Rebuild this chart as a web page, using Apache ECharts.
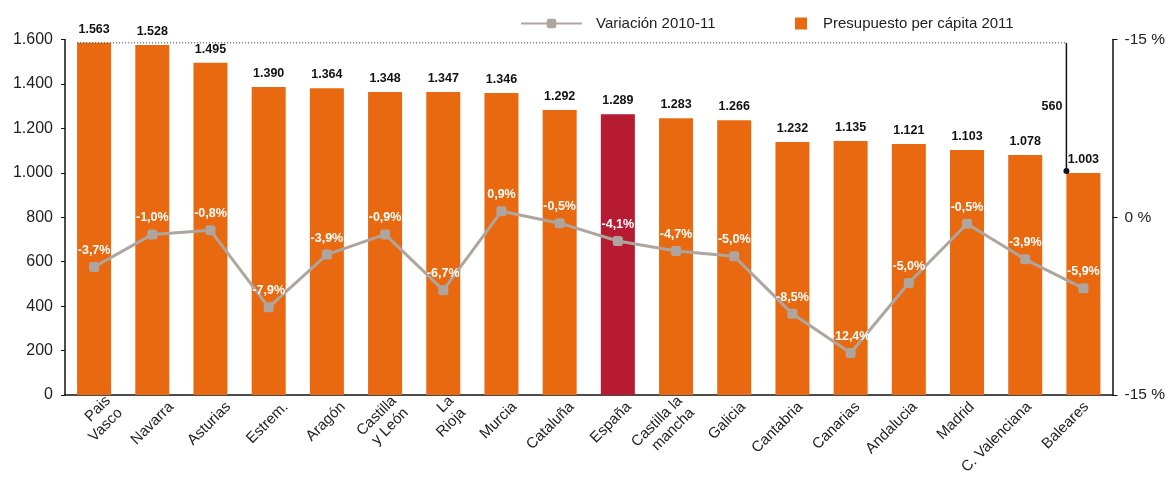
<!DOCTYPE html>
<html>
<head>
<meta charset="utf-8">
<script src="https://cdn.jsdelivr.net/npm/echarts@6/dist/echarts.min.js"></script>
<style>
html,body{margin:0;padding:0;background:#fff;}
#main{width:1168px;height:478px;}
</style>
</head>
<body>
<div id="main"></div>
<script>
const categories = ['Pais\nVasco','Navarra','Asturias','Estrem.','Aragón','Castilla\ny León','La\nRioja','Murcia','Cataluña','España','Castilla la\nmancha','Galicia','Cantabria','Canarias','Andalucia','Madrid','C. Valenciana','Baleares'];
const barHeights = [1585,1575,1495,1386,1381,1364,1364,1359,1283,1264,1246,1237,1139,1143,1130,1103,1080,999];
const barLabels = ['1.563','1.528','1.495','1.390','1.364','1.348','1.347','1.346','1.292','1.289','1.283','1.266','1.232','1.135','1.121','1.103','1.078','1.003'];
const variation = [-4.2,-1.45,-1.1,-7.6,-3.15,-1.45,-6.15,0.5,-0.5,-2.0,-2.85,-3.3,-8.15,-11.45,-5.55,-0.55,-3.55,-6.0];
const variationLabels = ['-3,7%','-1,0%','-0,8%','-7,9%','-3,9%','-0,9%','-6,7%','0,9%','-0,5%','-4,1%','-4,7%','-5,0%','-8,5%','-12,4%','-5,0%','-0,5%','-3,9%','-5,9%'];
const rightTickLabels = {'15':'-15 %','0':'0 %','-15':'-15 %'};
const highlightIndex = 9;
const annotationLabel = '560';

const ORANGE = '#E8690F';
const RED = '#B71B32';
const GREY = '#AEA69E';
const FONT = '"Liberation Sans", Arial, Helvetica, sans-serif';

const chart = echarts.init(document.getElementById('main'), null, {renderer:'canvas'});
const option = {
  animation:false,
  textStyle:{fontFamily:FONT},
  grid:[
    {left:65, right:55, top:39.5, bottom:83, containLabel:false},
    // label band for the category names (the names sit on a slightly tighter spacing than the bars)
    {left:85.5, right:53, top:39.5, bottom:83, containLabel:false}
  ],
  legend:[{
    data:['Variación 2010-11'], left:515, top:11, itemWidth:61, itemHeight:12,
    textStyle:{fontSize:15, color:'#222', fontFamily:FONT, padding:[0,0,0,9]}
  },{
    data:[{name:'Presupuesto per cápita 2011', icon:'rect'}], left:790, top:11, itemWidth:12, itemHeight:12,
    textStyle:{fontSize:15, color:'#222', fontFamily:FONT, padding:[0,0,0,11]}
  }],
  xAxis:[{
    type:'category', data:categories, gridIndex:0,
    axisLine:{show:true, lineStyle:{color:'#111', width:1.5}},
    axisTick:{show:false},
    axisLabel:{show:false}
  },{
    type:'category', data:categories, gridIndex:1,
    axisLine:{show:false},
    axisTick:{show:false},
    axisLabel:{rotate:45, interval:0, fontSize:15, color:'#222', margin:16, lineHeight:17,
      align:'right', verticalAlign:'middle', fontFamily:FONT}
  }],
  yAxis:[{
    type:'value', min:0, max:1600, interval:200, position:'left', gridIndex:0,
    axisLine:{show:true, lineStyle:{color:'#111', width:1.5}},
    axisTick:{show:true, inside:false, length:4, lineStyle:{color:'#111'}},
    splitLine:{show:false},
    axisLabel:{fontSize:16, color:'#222', margin:12, fontFamily:FONT,
      formatter:v=> v>=1000 ? Math.floor(v/1000)+'.'+String(v%1000).padStart(3,'0') : String(v)}
  },{
    type:'value', min:-15, max:15, interval:15, position:'right', gridIndex:0,
    axisLine:{show:true, lineStyle:{color:'#111', width:1.5}},
    axisTick:{show:true, length:5, lineStyle:{color:'#111'}},
    splitLine:{show:false},
    axisLabel:{fontSize:15.5, color:'#222', margin:12, fontFamily:FONT,
      formatter:v=> rightTickLabels[String(v)]}
  },{
    type:'value', gridIndex:1, show:false, min:0, max:1
  }],
  series:[{
    name:'Presupuesto per cápita 2011', type:'bar', barWidth:34, xAxisIndex:0, yAxisIndex:0,
    itemStyle:{color:ORANGE},
    data:barHeights.map((v,i)=>({value:v, itemStyle:{color: i===highlightIndex?RED:ORANGE}})),
    label:{show:true, position:'top', distance:7, fontSize:12.5, fontWeight:'bold', color:'#111', fontFamily:FONT,
      formatter:p=>barLabels[p.dataIndex]},
    z:2
  },{
    name:'Variación 2010-11', type:'line', xAxisIndex:0, yAxisIndex:1,
    data:variation,
    symbol:'roundRect', symbolSize:10,
    lineStyle:{color:GREY, width:3},
    itemStyle:{color:GREY},
    label:{show:true, position:'top', distance:5, fontSize:12.5, fontWeight:'bold', color:'#fff', fontFamily:FONT,
      formatter:p=>variationLabels[p.dataIndex]},
    z:5
  }]
};
chart.setOption(option);

// annotation: dotted line from top of first bar to the last bar, then down to its top
const last = barHeights.length-1;
const halfBar = 17;
const pFirst = chart.convertToPixel({xAxisIndex:0,yAxisIndex:0},[0, barHeights[0]]);
const pLast = chart.convertToPixel({xAxisIndex:0,yAxisIndex:0},[last, barHeights[last]]);
const x0 = pFirst[0]-halfBar, yTop = pFirst[1];
const x1 = pLast[0]-halfBar, yBot = pLast[1]-2;
chart.setOption({
  graphic:[
    {type:'line', shape:{x1:x0, y1:yTop, x2:x1, y2:yTop}, style:{stroke:'#333', lineWidth:1, lineDash:[1,2]}, z:10},
    {type:'line', shape:{x1:x1, y1:yTop, x2:x1, y2:yBot}, style:{stroke:'#111', lineWidth:1.5}, z:10},
    {type:'circle', shape:{cx:x1, cy:yBot, r:3}, style:{fill:'#111'}, z:10},
    {type:'text', x:x1-4, y:(yTop+yBot)/2, style:{text:annotationLabel, align:'right', verticalAlign:'middle',
      font:'bold 12.5px '+FONT, fill:'#111'}, z:10}
  ]
});
</script>
</body>
</html>
